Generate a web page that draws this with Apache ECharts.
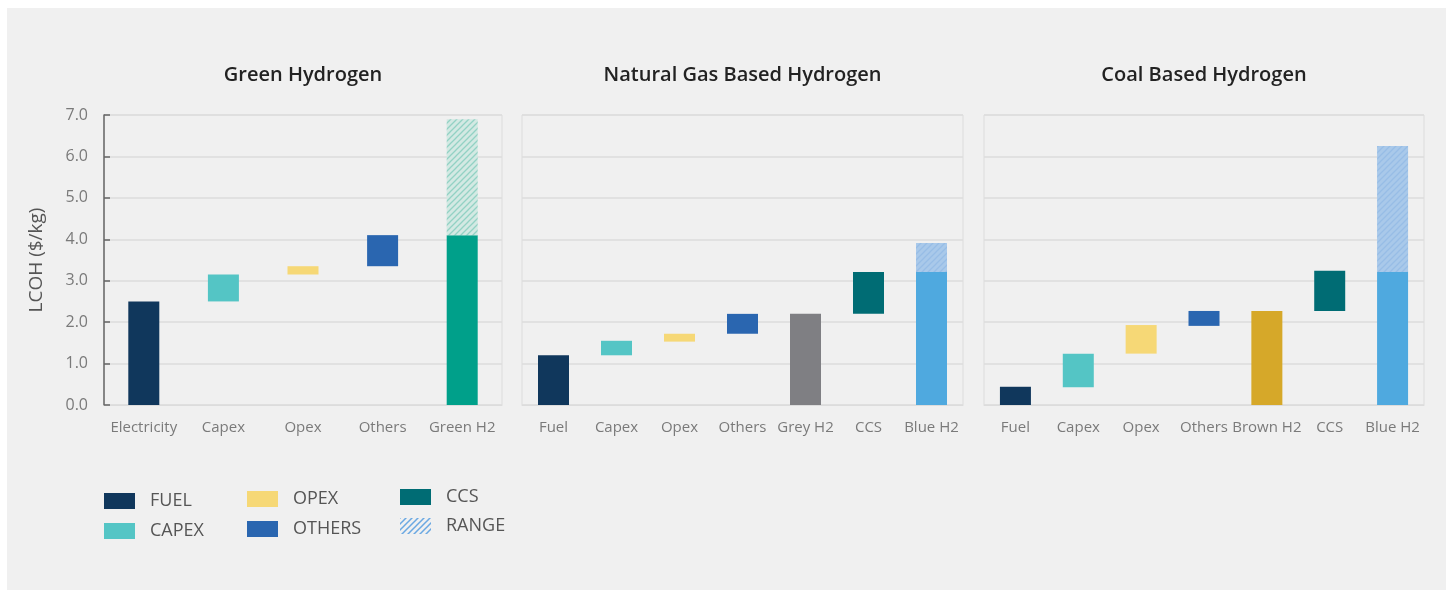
<!DOCTYPE html>
<html>
<head>
<meta charset="utf-8">
<script src="https://cdn.jsdelivr.net/npm/echarts@6/dist/echarts.min.js"></script>
<style>
html,body{margin:0;padding:0;background:#fff;}
#c{width:1448px;height:590px;}
</style>
</head>
<body>
<div id="c"></div>
<script>
// ---------- DATA ----------
var panelTitles = ['Green Hydrogen', 'Natural Gas Based Hydrogen', 'Coal Based Hydrogen'];
var yTicks = [0, 1, 2, 3, 4, 5, 6, 7];

var greenCats  = ['Electricity', 'Capex', 'Opex', 'Others', 'Green H2'];
var greenLow   = [0, 2.50, 3.15, 3.35, 0];
var greenHigh  = [2.50, 3.15, 3.35, 4.10, 4.10];
var greenRange = [null, null, null, null, 6.90];

var gasCats  = ['Fuel', 'Capex', 'Opex', 'Others', 'Grey H2', 'CCS', 'Blue H2'];
var gasLow   = [0, 1.20, 1.53, 1.72, 0, 2.20, 0];
var gasHigh  = [1.20, 1.55, 1.72, 2.20, 2.20, 3.21, 3.21];
var gasRange = [null, null, null, null, null, null, 3.91];

var coalCats  = ['Fuel', 'Capex', 'Opex', 'Others', 'Brown H2', 'CCS', 'Blue H2'];
var coalLow   = [0, 0.43, 1.24, 1.91, 0, 2.27, 0];
var coalHigh  = [0.44, 1.24, 1.93, 2.27, 2.27, 3.24, 3.21];
var coalRange = [null, null, null, null, null, null, 6.25];

var legendNames = ['FUEL', 'CAPEX', 'OPEX', 'OTHERS', 'CCS', 'RANGE'];

// ---------- STYLE ----------
var C = {
  fuel: '#10375c', capex: '#54c5c5', opex: '#f6d876', others: '#2a66b0',
  ccs: '#006c74', green: '#00a08a', grey: '#7f7f83', brown: '#d6a829', blue: '#4fa9df'
};
var greenColors = [C.fuel, C.capex, C.opex, C.others, C.green];
var gasColors   = [C.fuel, C.capex, C.opex, C.others, C.grey, C.ccs, C.blue];
var coalColors  = [C.fuel, C.capex, C.opex, C.others, C.brown, C.ccs, C.blue];
var FONT = '"Open Sans", sans-serif';

function hatch(bg, fg, size, lw) {
  var cv = document.createElement('canvas');
  cv.width = size; cv.height = size;
  var ctx = cv.getContext('2d');
  if (bg) { ctx.fillStyle = bg; ctx.fillRect(0, 0, size, size); }
  ctx.strokeStyle = fg; ctx.lineWidth = lw;
  ctx.beginPath();
  ctx.moveTo(-1, size + 1); ctx.lineTo(size + 1, -1);
  ctx.moveTo(-1, 1); ctx.lineTo(1, -1);
  ctx.moveTo(size - 1, size + 1); ctx.lineTo(size + 1, size - 1);
  ctx.stroke();
  return cv;
}
var greenHatch = {image: hatch('#d3e9e3', '#93d2c4', 6, 1.3), repeat: 'repeat'};
var blueHatch  = {image: hatch('#a9c9ea', '#97bde6', 6, 1.3), repeat: 'repeat'};
var legendHatch = {image: hatch(null, '#6aa8e2', 6, 1.5), repeat: 'repeat'};

var grids = [
  {left: 104, top: 115, width: 398, height: 290},
  {left: 522, top: 115, width: 441, height: 290},
  {left: 984, top: 115, width: 440, height: 290}
];
var panels = [
  {cats: greenCats, low: greenLow, high: greenHigh, range: greenRange, colors: greenColors, hatch: greenHatch},
  {cats: gasCats, low: gasLow, high: gasHigh, range: gasRange, colors: gasColors, hatch: blueHatch},
  {cats: coalCats, low: coalLow, high: coalHigh, range: coalRange, colors: coalColors, hatch: blueHatch}
];

var option = {
  backgroundColor: '#ffffff',
  animation: false,
  title: [],
  grid: [],
  xAxis: [],
  yAxis: [],
  series: [],
  graphic: []
};

option.graphic.push({type: 'rect', z: -10, silent: true,
  shape: {x: 7, y: 8, width: 1439, height: 582}, style: {fill: '#f0f0f0'}});

panels.forEach(function (p, i) {
  var g = grids[i];
  option.grid.push({left: g.left, top: g.top, width: g.width, height: g.height,
    show: true, borderColor: '#dcdcdc', borderWidth: 1, backgroundColor: 'transparent'});
  option.title.push({text: panelTitles[i], left: g.left + g.width / 2, top: 65, textAlign: 'center', padding: 0,
    textStyle: {fontFamily: FONT, fontSize: 20, fontWeight: 600, color: '#222'}});
  option.xAxis.push({type: 'category', gridIndex: i, data: p.cats,
    axisLine: {show: true, lineStyle: {color: '#dcdcdc', width: 1}},
    axisTick: {show: false},
    axisLabel: {color: '#7a7a7a', fontSize: 15, fontFamily: FONT, margin: 15, interval: 0}
  });
  option.yAxis.push({type: 'value', gridIndex: i, min: 0, max: 7, interval: 1,
    name: i === 0 ? 'LCOH ($/kg)' : '', nameLocation: 'middle', nameGap: 58, nameRotate: 90,
    nameTextStyle: {color: '#555', fontSize: 19, fontFamily: FONT},
    axisLine: {show: i === 0, lineStyle: {color: '#666', width: 1.5}},
    axisTick: {show: i === 0, inside: true, length: 6, lineStyle: {color: '#666', width: 1.5}},
    axisLabel: {show: i === 0, color: '#7a7a7a', fontSize: 16, fontFamily: FONT, margin: 16,
      formatter: function (v) { return yTicks.indexOf(v) >= 0 ? v.toFixed(1) : ''; }},
    splitLine: {show: true, lineStyle: {color: '#dcdcdc', width: 1.5}}
  });
  var stack = 's' + i;
  option.series.push({type: 'bar', xAxisIndex: i, yAxisIndex: i, stack: stack, barWidth: 31, silent: true,
    itemStyle: {color: 'transparent'}, data: p.low.slice()});
  option.series.push({type: 'bar', xAxisIndex: i, yAxisIndex: i, stack: stack, barWidth: 31,
    data: p.high.map(function (h, k) { return {value: +(h - p.low[k]).toFixed(3), itemStyle: {color: p.colors[k]}}; })});
  option.series.push({type: 'bar', xAxisIndex: i, yAxisIndex: i, stack: stack, barWidth: 31,
    itemStyle: {color: p.hatch},
    data: p.range.map(function (r, k) { return r == null ? '-' : +(r - p.high[k]).toFixed(3); })});
});

// legend (drawn as graphic swatches)
var legendItems = [
  {x: 104, y: 493, fill: C.fuel},
  {x: 104, y: 523, fill: C.capex},
  {x: 247, y: 491, fill: C.opex},
  {x: 247, y: 521, fill: C.others},
  {x: 400, y: 489, fill: C.ccs},
  {x: 400, y: 518, fill: legendHatch}
];
legendItems.forEach(function (it, k) {
  option.graphic.push({type: 'rect', shape: {x: it.x, y: it.y, width: 31, height: 16}, style: {fill: it.fill}});
  option.graphic.push({type: 'text', x: it.x + 46, y: it.y + 8,
    style: {text: legendNames[k], fill: '#555', font: '18px ' + FONT, textVerticalAlign: 'middle', verticalAlign: 'middle'}});
});

var chart = echarts.init(document.getElementById('c'), null, {renderer: 'canvas'});
chart.setOption(option);
</script>
</body>
</html>
